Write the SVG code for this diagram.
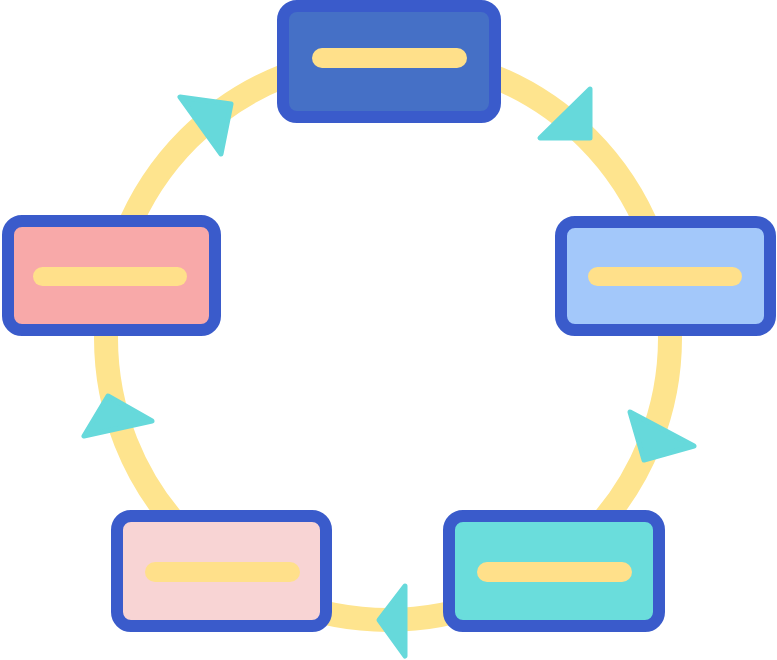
<svg xmlns="http://www.w3.org/2000/svg" width="777" height="660" viewBox="0 0 777 660">
<style>
.ring{fill:none;stroke:#FEE48E;stroke-width:24}
.box{stroke:#3A5BCB;stroke-width:12}
.bar{fill:#FFE08A}
.arr{fill:#66D9DB;stroke:#66D9DB;stroke-width:5;stroke-linejoin:round}
</style>
<rect width="777" height="660" fill="#FFFFFF"/>
<g id="connectors">
<circle class="ring" cx="388" cy="338" r="282"/>
<polygon class="arr" points="180,97 231,104 221,154"/>
<polygon class="arr" points="590,89 540,138 590,138"/>
<polygon class="arr" points="630,412 644,460 694,446"/>
<polygon class="arr" points="405,586 379,620 405,656"/>
<polygon class="arr" points="108,396 84,436 152,421"/>
</g>
<g id="node-top">
<rect class="box" x="283" y="6" width="212" height="111" rx="14" fill="#4570C6"/>
<rect class="bar" x="312" y="48" width="155" height="20" rx="10"/>
</g>
<g id="node-right">
<rect class="box" x="561" y="222" width="209" height="108" rx="14" fill="#A3C8FA"/>
<rect class="bar" x="588" y="267" width="154" height="19" rx="9.5"/>
</g>
<g id="node-bottom-right">
<rect class="box" x="449" y="516" width="210" height="110" rx="14" fill="#6ADDDC"/>
<rect class="bar" x="477" y="562" width="155" height="20" rx="10"/>
</g>
<g id="node-bottom-left">
<rect class="box" x="117" y="516" width="209" height="110" rx="14" fill="#F8D4D4"/>
<rect class="bar" x="145" y="562" width="155" height="20" rx="10"/>
</g>
<g id="node-left">
<rect class="box" x="8" y="221" width="207" height="109" rx="14" fill="#F8A9A9"/>
<rect class="bar" x="33" y="267" width="154" height="19" rx="9.5"/>
</g>
</svg>
